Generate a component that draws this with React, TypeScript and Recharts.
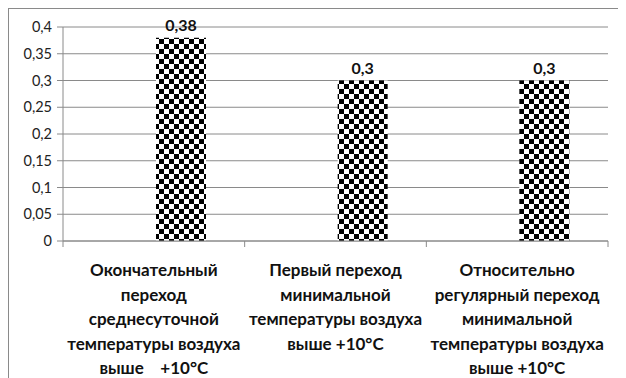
import { BarChart, Bar, XAxis, YAxis, CartesianGrid, LabelList } from 'recharts';

// Category captions, one entry per line of the wrapped label
const categoryLines: string[][] = [
  ['Окончательный', 'переход', 'среднесуточной', 'температуры воздуха', 'выше    +10°С'],
  ['Первый переход', 'минимальной', 'температуры воздуха', 'выше +10°С'],
  ['Относительно', 'регулярный переход', 'минимальной', 'температуры воздуха', 'выше +10°С'],
];
const categories = ['c1', 'c2', 'c3'];
// first series has no values, it only keeps its slot in each group
const seriesEmpty: (number | null)[] = [null, null, null];
const seriesValues = [0.38, 0.3, 0.3];
const yTicks = [0, 0.05, 0.1, 0.15, 0.2, 0.25, 0.3, 0.35, 0.4];

const data = categories.map((c, i) => ({
  name: c,
  empty: seriesEmpty[i],
  value: seriesValues[i],
}));

const GRID = '#8a8a8a';
const FONT = 'Lato, "Liberation Sans", sans-serif';
const comma = (v: number | string) => String(v).replace('.', ',');

function CategoryTick(props: any) {
  const { x, y, index, width, visibleTicksCount } = props;
  const band = width / visibleTicksCount;
  const lines: string[] = categoryLines[index] ?? [];
  const top = y - 8;
  return (
    <g>
      <line x1={x - band / 2} x2={x - band / 2} y1={top} y2={top + 6} stroke={GRID} />
      {index === visibleTicksCount - 1 && (
        <line x1={x + band / 2} x2={x + band / 2} y1={top} y2={top + 6} stroke={GRID} />
      )}
      {lines.map((ln, k) => (
        <text
          key={k}
          x={x}
          y={top + 35 + k * 24.6}
          textAnchor="middle"
          fontFamily={FONT}
          fontWeight={700}
          fontSize={17}
          fill="#111"
          style={{ whiteSpace: 'pre' }}
        >
          {ln}
        </text>
      ))}
    </g>
  );
}

export default function App() {
  return (
    <div
      style={{
        width: 618,
        height: 370,
        boxSizing: 'border-box',
        borderTop: `1px solid ${GRID}`,
        borderLeft: `1px solid ${GRID}`,
      }}
    >
      <BarChart
        width={617}
        height={369}
        data={data}
        margin={{ top: 18, right: 18, left: 0, bottom: 0 }}
        barSize={50}
        barGap={4}
      >
        <defs>
          <pattern id="checker" width={10} height={10} patternUnits="userSpaceOnUse">
            <rect width={10} height={10} fill="#fff" />
            <rect width={5} height={5} fill="#000" />
            <rect x={5} y={5} width={5} height={5} fill="#000" />
          </pattern>
        </defs>
        <CartesianGrid vertical={false} stroke={GRID} />
        <XAxis
          dataKey="name"
          height={137}
          stroke={GRID}
          tickLine={false}
          interval={0}
          tick={<CategoryTick />}
        />
        <YAxis
          width={54}
          domain={[0, 0.4]}
          ticks={yTicks}
          stroke={GRID}
          tickSize={6}
          tickMargin={5}
          tickFormatter={comma}
          tick={{ fill: '#222', fontSize: 14.5, fontFamily: FONT }}
        />
        <Bar dataKey="empty" fill="url(#checker)" isAnimationActive={false} />
        <Bar dataKey="value" fill="url(#checker)" isAnimationActive={false}>
          <LabelList
            dataKey="value"
            position="top"
            offset={7}
            formatter={comma}
            style={{ fill: '#111', fontSize: 16, fontWeight: 700, fontFamily: FONT }}
          />
        </Bar>
      </BarChart>
    </div>
  );
}
